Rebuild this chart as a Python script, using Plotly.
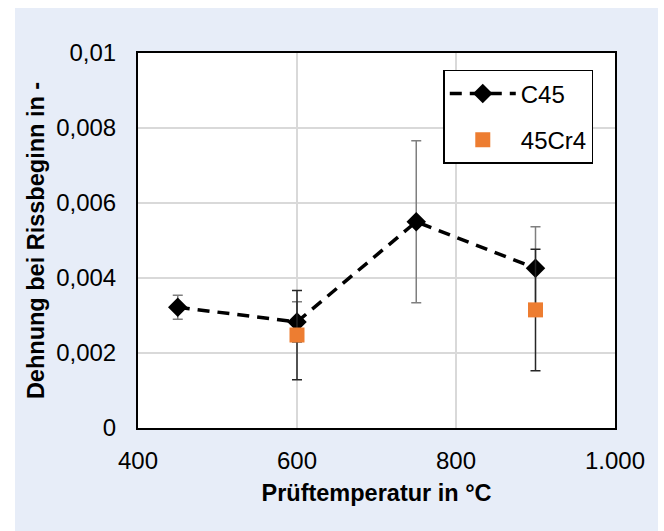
import plotly.graph_objects as go

# Data
temps_c45 = [450, 600, 750, 900]
c45 = [0.00322, 0.00283, 0.00550, 0.00426]
c45_err = [0.00032, 0.00054, 0.00216, 0.00111]

temps_cr4 = [600, 900]
cr4 = [0.00248, 0.00315]
cr4_err = [0.00119, 0.00162]

x_ticks = [400, 600, 800, 1000]
x_ticktext = ["400", "600", "800", "1.000"]
y_ticks = [0, 0.002, 0.004, 0.006, 0.008, 0.01]
y_ticktext = ["0", "0,002", "0,004", "0,006", "0,008", "0,01"]

FONT = "Liberation Sans, Arial, sans-serif"

fig = go.Figure()
fig.add_trace(go.Scatter(
    x=temps_c45, y=c45, name="C45", mode="lines+markers",
    line=dict(color="black", width=3.5, dash="12px,8px"),
    marker=dict(symbol="diamond", size=15, color="black"),
    error_y=dict(type="data", array=c45_err, color="#7f7f7f", thickness=1.5, width=5),
    legendgroup="a",
))
fig.add_trace(go.Scatter(
    x=temps_cr4, y=cr4, name="45Cr4", mode="markers",
    marker=dict(symbol="square", size=15, color="#ED7D31"),
    error_y=dict(type="data", array=cr4_err, color="#262626", thickness=1.5, width=5),
    legendgroup="b",
))

fig.update_layout(
    width=664, height=531,
    margin=dict(l=138, r=49, t=53, b=103),
    paper_bgcolor="#E7EDF8",
    plot_bgcolor="white",
    font=dict(family=FONT, size=24, color="black"),
    showlegend=True,
    legend=dict(
        x=0.64, y=0.955, xanchor="left", yanchor="top",
        bgcolor="white", bordercolor="black", borderwidth=1.5,
        font=dict(size=24), tracegroupgap=12, traceorder="grouped",
        itemwidth=66,
    ),
    xaxis=dict(
        range=[400, 1000], tickvals=x_ticks, ticktext=x_ticktext,
        showgrid=True, gridcolor="#D9D9D9", gridwidth=1.5,
        showline=True, linecolor="black", linewidth=2, mirror=True,
        zeroline=False, ticks="", ticklabelstandoff=10,
        title=dict(text="<b>Prüftemperatur in °C</b>", font=dict(size=23.5), standoff=12),
    ),
    yaxis=dict(
        range=[0, 0.01], tickvals=y_ticks, ticktext=y_ticktext,
        showgrid=True, gridcolor="#D9D9D9", gridwidth=1.5,
        showline=True, linecolor="black", linewidth=2, mirror=True,
        zeroline=False, ticks="", ticklabelstandoff=15,
        title=dict(text="<b>Dehnung bei Rissbeginn in -</b>", font=dict(size=23.5), standoff=5),
    ),
    shapes=[
        dict(type="rect", xref="paper", yref="paper", x0=-138/477, x1=-123/477, y0=-1, y1=2,
             fillcolor="white", line=dict(width=0), layer="above"),
        dict(type="rect", xref="paper", yref="paper", x0=-1, x1=2, y0=(428-8)/375, y1=2,
             fillcolor="white", line=dict(width=0), layer="above"),
        dict(type="rect", xref="paper", yref="paper", x0=(658-138)/477, x1=2, y0=-1, y1=2,
             fillcolor="white", line=dict(width=0), layer="above"),
    ],
)

fig.write_html("out.html")
